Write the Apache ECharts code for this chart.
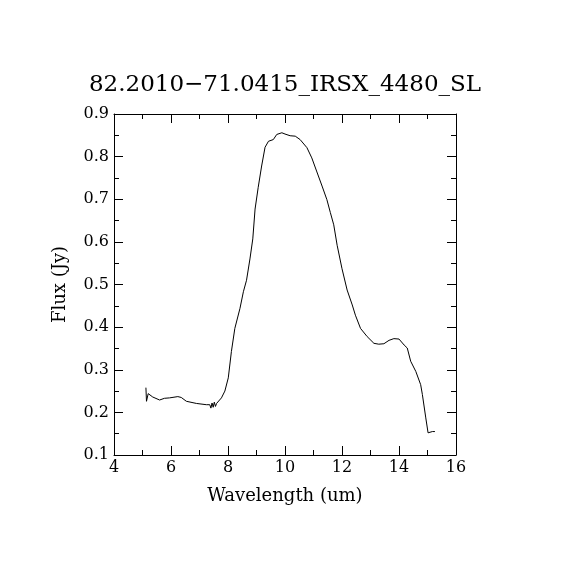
<!DOCTYPE html>
<html><head><meta charset="utf-8">
<script src="https://cdn.jsdelivr.net/npm/echarts@6/dist/echarts.min.js"></script>
<style>html,body{margin:0;padding:0;background:#fff}#c{width:570px;height:570px}</style>
</head><body><div id="c"></div>
<script>
var titleText = "82.2010\u221271.0415_IRSX_4480_SL";
var xName = "Wavelength (um)";
var yName = "Flux (Jy)";
var wavelength = [5.12,5.14,5.20,5.36,5.60,5.77,5.95,6.24,6.36,6.54,6.89,7.24,7.36,7.40,7.44,7.48,7.52,7.56,7.60,7.65,7.77,7.89,8.01,8.12,8.24,8.42,8.54,8.65,8.77,8.87,8.95,9.06,9.18,9.30,9.42,9.59,9.71,9.89,10.0,10.18,10.36,10.53,10.77,10.94,11.12,11.30,11.47,11.59,11.71,11.83,12.0,12.18,12.36,12.47,12.65,12.88,13.12,13.29,13.47,13.65,13.82,14.0,14.18,14.29,14.41,14.59,14.76,14.82,14.94,15.02,15.17,15.26];
var flux = [0.258,0.226,0.244,0.236,0.229,0.233,0.234,0.237,0.235,0.226,0.221,0.218,0.218,0.210,0.222,0.212,0.224,0.214,0.221,0.222,0.234,0.250,0.281,0.343,0.397,0.444,0.483,0.510,0.560,0.607,0.677,0.728,0.778,0.822,0.836,0.840,0.852,0.856,0.853,0.849,0.848,0.840,0.821,0.797,0.764,0.731,0.699,0.669,0.640,0.592,0.537,0.487,0.452,0.428,0.397,0.378,0.362,0.360,0.361,0.369,0.373,0.372,0.358,0.351,0.320,0.296,0.265,0.242,0.187,0.152,0.155,0.155];
var xTicks = {min:4, max:16, interval:2};
var yTicks = {min:0.1, max:0.9, interval:0.1};

var pts = wavelength.map(function(w,i){return [w, flux[i]];});
var font = "'DejaVu Serif','Liberation Serif',serif";
var chart = echarts.init(document.getElementById('c'));
function axisBase(show){
  return {
    type:'value', scale:false,
    axisLine:{show:true, onZero:false, lineStyle:{color:'#000', width:1}},
    axisTick:{show:true, inside:true, length:9, lineStyle:{color:'#000'}},
    minorTick:{show:true, splitNumber:2, length:5, lineStyle:{color:'#000'}},
    splitLine:{show:false},
    axisLabel:{show:show, color:'#000', fontFamily:font, fontSize:16}
  };
}
var xb = Object.assign(axisBase(true), {min:xTicks.min, max:xTicks.max, interval:xTicks.interval, position:'bottom',
  name:xName, nameLocation:'middle', nameGap:32, nameTextStyle:{color:'#000', fontFamily:font, fontSize:18}});
xb.axisLabel.margin = 5;
var xt = Object.assign(axisBase(false), {min:xTicks.min, max:xTicks.max, interval:xTicks.interval, position:'top'});
var yl = Object.assign(axisBase(true), {min:yTicks.min, max:yTicks.max, interval:yTicks.interval, position:'left',
  name:yName, nameLocation:'middle', nameGap:45, nameTextStyle:{color:'#000', fontFamily:font, fontSize:18}});
yl.axisLabel.formatter = function(v){return v.toFixed(1);};
yl.axisLabel.margin = 5;
var yr = Object.assign(axisBase(false), {min:yTicks.min, max:yTicks.max, interval:yTicks.interval, position:'right'});
chart.setOption({
  animation:false,
  backgroundColor:'#fff',
  title:{text:titleText, left:'center', top:69, textStyle:{color:'#000', fontFamily:font, fontSize:23, fontWeight:'normal'}},
  grid:{left:114, right:114, top:114, bottom:115},
  xAxis:[xb, xt],
  yAxis:[yl, yr],
  series:[{type:'line', data:pts, showSymbol:false, symbol:'none', lineStyle:{color:'#000', width:1}, xAxisIndex:0, yAxisIndex:0}]
});
</script></body></html>
